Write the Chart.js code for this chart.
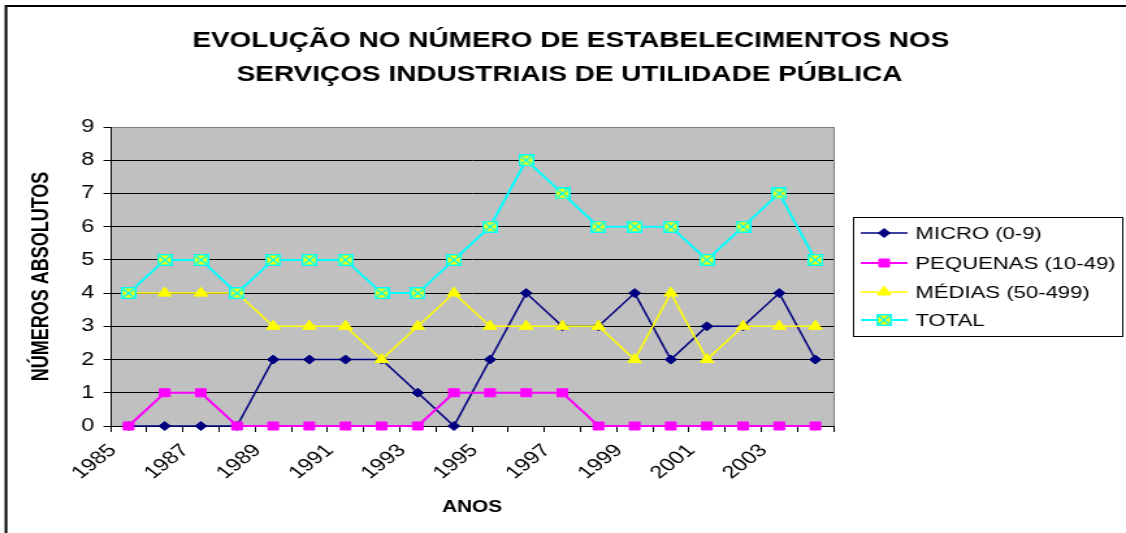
<!DOCTYPE html>
<html>
<head>
<meta charset="utf-8">
<script src="https://cdn.jsdelivr.net/npm/chart.js@4.4.0/dist/chart.umd.min.js"></script>
<style>
  html, body { margin: 0; padding: 0; background: #fff; overflow: hidden; }
  #chart { display: block; }
</style>
</head>
<body>
<!-- buffer is 866 wide, shown 1126 wide: everything comes out broad -->
<canvas id="chart" width="866" height="533" style="width:1126px;height:533px"></canvas>
<script>
const anos = ["1985", "1986", "1987", "1988", "1989", "1990", "1991", "1992", "1993", "1994",
  "1995", "1996", "1997", "1998", "1999", "2000", "2001", "2002", "2003", "2004"]
const micro = [0, 0, 0, 0, 2, 2, 2, 2, 1, 0, 2, 4, 3, 3, 4, 2, 3, 3, 4, 2]
const pequenas = [0, 1, 1, 0, 0, 0, 0, 0, 0, 1, 1, 1, 1, 0, 0, 0, 0, 0, 0, 0]
const medias = [4, 4, 4, 4, 3, 3, 3, 2, 3, 4, 3, 3, 3, 3, 2, 4, 2, 3, 3, 3]
const total = [4, 5, 5, 4, 5, 5, 5, 4, 4, 5, 6, 8, 7, 6, 6, 6, 5, 6, 7, 5]
const yTicks = [0, 1, 2, 3, 4, 5, 6, 7, 8, 9]

const titulo = [
  "EVOLUÇÃO NO NÚMERO DE ESTABELECIMENTOS NOS",
  "SERVIÇOS INDUSTRIAIS DE UTILIDADE PÚBLICA"
]

const FONT = "'Liberation Sans', Arial, sans-serif"

// yellow box with cyan edge and cross, used for the TOTAL series
function totalMarker() {
  const c = document.createElement("canvas")
  c.width = 12
  c.height = 12
  const g = c.getContext("2d")
  g.fillStyle = "#FFFF00"
  g.fillRect(0, 0, 12, 12)
  g.strokeStyle = "#00FFFF"
  g.lineWidth = 1.5
  g.strokeRect(0.75, 0.75, 10.5, 10.5)
  g.beginPath()
  g.moveTo(2, 2); g.lineTo(10, 10)
  g.moveTo(10, 2); g.lineTo(2, 10)
  g.stroke()
  return c
}

const series = [
  { label: "MICRO (0-9)", data: micro, color: "#000080", style: "rectRot", radius: 4.5, width: 1.5, order: 4 },
  { label: "PEQUENAS (10-49)", data: pequenas, color: "#FF00FF", style: "rect", radius: 5.7, width: 2, order: 3 },
  { label: "MÉDIAS (50-499)", data: medias, color: "#FFFF00", style: "triangle", radius: 6, width: 1.5, order: 2 },
  { label: "TOTAL", data: total, color: "#00FFFF", style: totalMarker(), radius: 6, width: 2, order: 1 }
]

const sheet = {
  id: "sheet",
  beforeDraw(chart) {
    const { ctx, chartArea: a } = chart
    ctx.save()
    ctx.fillStyle = "#fff"
    ctx.fillRect(0, 0, chart.width, chart.height)
    ctx.fillStyle = "#C0C0C0"
    ctx.fillRect(a.left, a.top, a.right - a.left, a.bottom - a.top)
    ctx.restore()
  },
  beforeDatasetsDraw(chart) {
    const { ctx, chartArea: a } = chart
    ctx.save()
    ctx.strokeStyle = "#808080"
    ctx.lineWidth = 1
    ctx.beginPath()
    ctx.moveTo(Math.round(a.right) + 0.5, a.top)
    ctx.lineTo(Math.round(a.right) + 0.5, a.bottom)
    ctx.stroke()
    ctx.restore()
  },
  afterDraw(chart) {
    const ctx = chart.ctx
    ctx.save()

    // title
    ctx.fillStyle = "#000"
    ctx.font = `bold 21.5px ${FONT}`
    ctx.textAlign = "center"
    ctx.textBaseline = "alphabetic"
    ctx.fillText(titulo[0], 439, 47)
    ctx.fillText(titulo[1], 438, 81)

    // legend
    const box = { x: 656.5, y: 217.5, w: 207, h: 119 }
    ctx.strokeStyle = "#000"
    ctx.lineWidth = 1
    ctx.strokeRect(box.x, box.y, box.w, box.h)
    const rows = [233, 263, 292, 320]
    ctx.font = `17px ${FONT}`
    ctx.textAlign = "left"
    ctx.textBaseline = "middle"
    series.forEach((s, i) => {
      const y = rows[i]
      ctx.strokeStyle = s.color
      ctx.lineWidth = s.width
      ctx.beginPath()
      ctx.moveTo(662, y)
      ctx.lineTo(698, y)
      ctx.stroke()
      ctx.fillStyle = s.color
      ctx.strokeStyle = s.color
      ctx.lineWidth = 1
      Chart.helpers.drawPoint(ctx, { pointStyle: s.style, radius: s.radius, borderWidth: 1, rotation: 0 }, 680, y)
      ctx.fillStyle = "#000"
      ctx.fillText(s.label, 704, y + 1)
    })

    // outer frame
    ctx.strokeStyle = "#000"
    ctx.lineWidth = 2
    ctx.beginPath()
    ctx.moveTo(4.6, 2000)
    ctx.lineTo(4.6, 6)
    ctx.lineTo(2000, 6)
    ctx.stroke()
    ctx.restore()
  }
}

new Chart(document.getElementById("chart"), {
  type: "line",
  data: {
    labels: anos,
    datasets: series.map((s) => ({
      label: s.label,
      data: s.data,
      borderColor: s.color,
      backgroundColor: s.color,
      borderWidth: s.width,
      pointStyle: s.style,
      pointRadius: s.radius,
      pointBorderWidth: 1,
      pointBackgroundColor: s.color,
      pointBorderColor: s.color,
      tension: 0,
      order: s.order,
      clip: false
    }))
  },
  options: {
    responsive: false,
    animation: false,
    devicePixelRatio: 1,
    layout: { padding: { top: 127, right: 225, bottom: 0, left: 0 } },
    plugins: {
      legend: { display: false },
      title: { display: false },
      tooltip: { enabled: false }
    },
    scales: {
      x: {
        offset: true,
        afterFit: (scale) => { scale.height = 107 },
        grid: {
          offset: true,
          drawOnChartArea: false,
          drawTicks: true,
          tickLength: 6,
          tickColor: "#000"
        },
        border: { display: true, color: "#000", width: 1 },
        ticks: {
          autoSkip: false,
          maxRotation: 45,
          minRotation: 45,
          padding: 8,
          labelOffset: -12,
          color: "#000",
          font: { family: FONT, size: 18 },
          callback: (v, i) => (i % 2 === 0 ? anos[i] : "")
        },
        title: {
          display: true,
          text: "ANOS",
          color: "#000",
          font: { family: FONT, size: 16, weight: "bold" },
          padding: { top: 0, bottom: 16 }
        }
      },
      y: {
        min: 0,
        max: 9,
        afterFit: (scale) => { scale.width = 85 },
        afterBuildTicks: (scale) => { scale.ticks = yTicks.map((v) => ({ value: v })) },
        grid: {
          color: (c) => (c.tick && c.tick.value === 9 ? "#808080" : "#000"),
          lineWidth: 1,
          drawTicks: true,
          tickLength: 5.4,
          tickColor: "#000"
        },
        border: { display: true, color: "#000", width: 1 },
        ticks: {
          padding: 7,
          color: "#000",
          font: { family: FONT, size: 18 }
        },
        title: {
          display: true,
          text: "NÚMEROS ABSOLUTOS",
          color: "#000",
          font: { family: FONT, size: 18, weight: "bold" },
          padding: { top: 21, bottom: 0 }
        }
      }
    }
  },
  plugins: [sheet]
})
</script>
</body>
</html>
